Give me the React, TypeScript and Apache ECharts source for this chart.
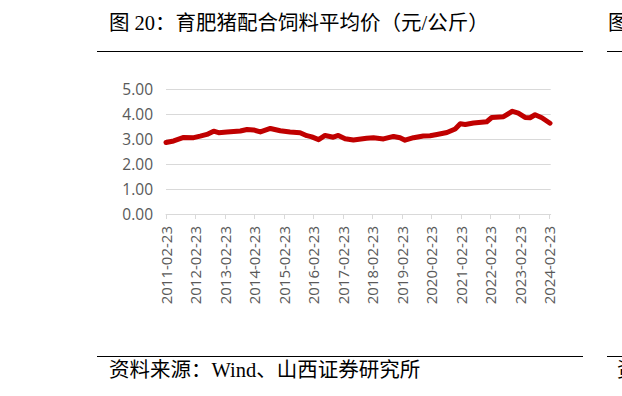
import React, { useEffect, useRef } from "react";
import * as echarts from "echarts";

const titleText = "图 20：育肥猪配合饲料平均价（元/公斤）";
const sourceText = "资料来源：Wind、山西证券研究所";
const startDate = "2011-02-23";
const yearTickLabels = [
  "2011-02-23", "2012-02-23", "2013-02-23", "2014-02-23", "2015-02-23",
  "2016-02-23", "2017-02-23", "2018-02-23", "2019-02-23", "2020-02-23",
  "2021-02-23", "2022-02-23", "2023-02-23", "2024-02-23",
];
const dates = [
  "2011-02-23", "2011-05-29", "2011-09-30", "2012-02-01", "2012-04-21",
  "2012-07-14", "2012-10-05", "2012-12-06", "2013-03-20", "2013-09-01",
  "2013-11-23", "2014-02-12", "2014-05-07", "2014-09-08", "2015-01-09",
  "2015-05-10", "2015-09-11", "2015-12-04", "2016-02-04", "2016-04-28",
  "2016-07-17", "2016-10-27", "2016-12-28", "2017-03-22", "2017-07-03",
  "2017-12-14", "2018-03-09", "2018-07-11", "2018-11-13", "2019-02-01",
  "2019-04-04", "2019-07-18", "2019-11-16", "2020-02-08", "2020-05-03",
  "2020-09-04", "2020-12-15", "2021-02-16", "2021-04-19", "2021-07-30",
  "2022-01-10", "2022-03-13", "2022-08-06", "2022-11-24", "2023-02-05",
  "2023-04-30", "2023-07-01", "2023-09-01", "2023-11-24", "2024-03-04",
];
const prices = [
  2.87, 2.93, 3.07, 3.06, 3.12,
  3.19, 3.32, 3.26, 3.29, 3.33,
  3.39, 3.37, 3.29, 3.43, 3.34,
  3.29, 3.26, 3.14, 3.09, 2.98,
  3.15, 3.08, 3.15, 3.02, 2.97,
  3.04, 3.06, 3.01, 3.11, 3.06,
  2.96, 3.06, 3.13, 3.14, 3.19,
  3.27, 3.41, 3.62, 3.59, 3.65,
  3.70, 3.87, 3.90, 4.12, 4.04,
  3.87, 3.86, 3.98, 3.86, 3.64,
];

const DAY = 86400000;
const toYears = (d: string) =>
  (Date.parse(d) - Date.parse(startDate)) / (365.25 * DAY);

const CJK = "'Liberation Serif', 'Noto Sans CJK SC', serif";
const AXISFONT = "'Open Sans', 'Liberation Sans', sans-serif";

export default function App() {
  const ref = useRef<HTMLDivElement>(null);
  useEffect(() => {
    if (!ref.current) return;
    const chart = echarts.init(ref.current, undefined, { renderer: "svg" });
    chart.setOption({
      animation: false,
      backgroundColor: "#ffffff",
      grid: { left: 166, right: 71.3, top: 89.3, bottom: 182, containLabel: false },
      xAxis: {
        type: "value",
        min: 0,
        max: 13.05,
        interval: 1,
        axisLine: { show: true, lineStyle: { color: "#d9d9d9", width: 1 } },
        axisTick: { show: true, length: 5, lineStyle: { color: "#d9d9d9" } },
        splitLine: { show: false },
        axisLabel: {
          rotate: 90,
          margin: 12,
          color: "#595959",
          fontSize: 15,
          fontFamily: AXISFONT,
          showMaxLabel: false,
          formatter: (v: number) => {
            const i = Math.round(v);
            return Math.abs(v - i) < 1e-6 && yearTickLabels[i] ? yearTickLabels[i] : "";
          },
        },
      },
      yAxis: {
        type: "value",
        min: 0,
        max: 5,
        interval: 1,
        axisLine: { show: false },
        axisTick: { show: false },
        splitLine: { show: true, lineStyle: { color: "#d9d9d9", width: 1 } },
        axisLabel: {
          margin: 13,
          color: "#595959",
          fontSize: 15.5,
          fontFamily: AXISFONT,
          formatter: (v: number) => v.toFixed(2),
        },
      },
      series: [
        {
          type: "line",
          data: dates.map((d, i) => [toYears(d), prices[i]]),
          showSymbol: false,
          symbol: "none",
          lineStyle: { color: "#c00000", width: 5, join: "round", cap: "round" },
          smooth: false,
        },
      ],
      graphic: [
        {
          type: "text",
          left: 109,
          top: 13,
          style: { text: titleText, fontSize: 20.5, fontFamily: CJK, fill: "#000" },
        },
        {
          type: "text",
          left: 608,
          top: 13,
          style: { text: "图", fontSize: 20.5, fontFamily: CJK, fill: "#000" },
        },
        {
          type: "line",
          shape: { x1: 97, y1: 51.5, x2: 583, y2: 51.5 },
          style: { stroke: "#000", lineWidth: 1 },
        },
        {
          type: "line",
          shape: { x1: 607, y1: 51.5, x2: 622, y2: 51.5 },
          style: { stroke: "#000", lineWidth: 1 },
        },
        {
          type: "line",
          shape: { x1: 97, y1: 356.5, x2: 583, y2: 356.5 },
          style: { stroke: "#000", lineWidth: 1 },
        },
        {
          type: "line",
          shape: { x1: 607, y1: 356.5, x2: 622, y2: 356.5 },
          style: { stroke: "#000", lineWidth: 1 },
        },
        {
          type: "text",
          left: 109,
          top: 360,
          style: { text: sourceText, fontSize: 20.5, fontFamily: CJK, fill: "#000" },
        },
        {
          type: "text",
          left: 617,
          top: 360,
          style: { text: "资", fontSize: 20.5, fontFamily: CJK, fill: "#000" },
        },
      ],
    });
    return () => chart.dispose();
  }, []);
  return (
    <div
      ref={ref}
      style={{ position: "fixed", left: 0, top: 0, width: 622, height: 396 }}
    />
  );
}
